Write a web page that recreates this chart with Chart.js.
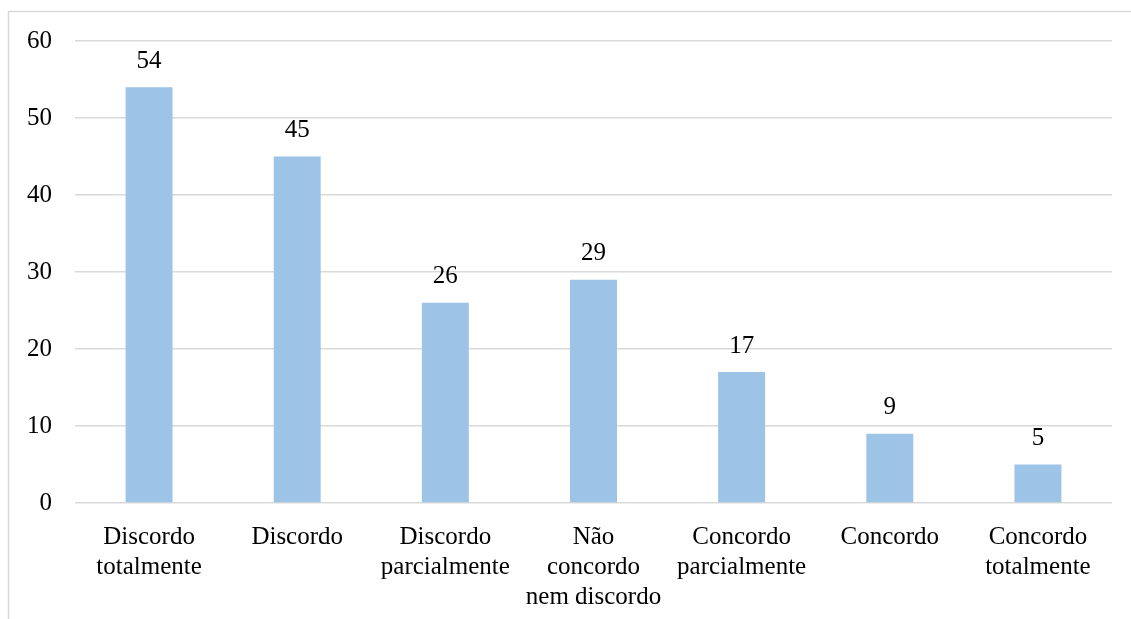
<!DOCTYPE html>
<html>
<head>
<meta charset="utf-8">
<script src="https://cdn.jsdelivr.net/npm/chart.js@4"></script>
<style>
  html, body { margin: 0; padding: 0; background: #ffffff; }
  #wrap { width: 1131px; height: 619px; position: relative; }
</style>
</head>
<body>
<div id="wrap"><canvas id="respostas"></canvas></div>
<script>
// Respostas por opção da escala
const categorias = [
    ['Discordo', 'totalmente'],
    'Discordo',
    ['Discordo', 'parcialmente'],
    ['Não', 'concordo', 'nem discordo'],
    ['Concordo', 'parcialmente'],
    'Concordo',
    ['Concordo', 'totalmente']
];
const valores = [54, 45, 26, 29, 17, 9, 5];
const escalaY = [0, 10, 20, 30, 40, 50, 60];

const fonte = "'Liberation Serif', 'Times New Roman', serif";

// moldura cinza à volta do gráfico
const moldura = {
    id: 'moldura',
    beforeDraw(chart) {
        const ctx = chart.ctx;
        ctx.save();
        ctx.strokeStyle = '#d9d9d9';
        ctx.lineWidth = 1.5;
        ctx.beginPath();
        ctx.moveTo(8.5, chart.height);
        ctx.lineTo(8.5, 11.5);
        ctx.lineTo(chart.width, 11.5);
        ctx.stroke();
        ctx.restore();
    }
};

// números por cima de cada barra
const rotulos = {
    id: 'rotulos',
    afterDatasetsDraw(chart) {
        const ctx = chart.ctx;
        const meta = chart.getDatasetMeta(0);
        ctx.save();
        ctx.font = '25px ' + fonte;
        ctx.fillStyle = '#000000';
        ctx.textAlign = 'center';
        ctx.textBaseline = 'middle';
        meta.data.forEach((bar, i) => {
            ctx.fillText(String(valores[i]), bar.x, bar.y - 26);
        });
        ctx.restore();
    }
};

const ctx = document.getElementById('respostas').getContext('2d');
const chart = new Chart(ctx, {
    type: 'bar',
    data: {
        labels: categorias,
        datasets: [{
            data: valores,
            backgroundColor: '#9dc3e6',
            borderWidth: 0,
            barPercentage: 0.317,
            categoryPercentage: 1
        }]
    },
    options: {
        responsive: true,
        maintainAspectRatio: false,
        animation: false,
        layout: { padding: { top: 41, right: 19, bottom: 0, left: 0 } },
        plugins: {
            legend: { display: false },
            tooltip: { enabled: false }
        },
        scales: {
            x: {
                grid: { display: false, drawTicks: false },
                border: { display: false },
                ticks: {
                    color: '#000000',
                    padding: 19,
                    maxRotation: 0,
                    autoSkip: false,
                    font: { family: fonte, size: 25, lineHeight: 1.2 }
                },
                afterFit(scale) { scale.height = 116; }
            },
            y: {
                min: 0,
                max: 60,
                afterBuildTicks(scale) {
                    scale.ticks = escalaY.map(v => ({ value: v }));
                },
                grid: { color: '#d9d9d9', lineWidth: 1.5, drawTicks: false },
                border: { display: false },
                ticks: {
                    color: '#000000',
                    padding: 23,
                    font: { family: fonte, size: 25 }
                },
                afterFit(scale) { scale.width = 75; }
            }
        }
    },
    plugins: [moldura, rotulos]
});
</script>
</body>
</html>
